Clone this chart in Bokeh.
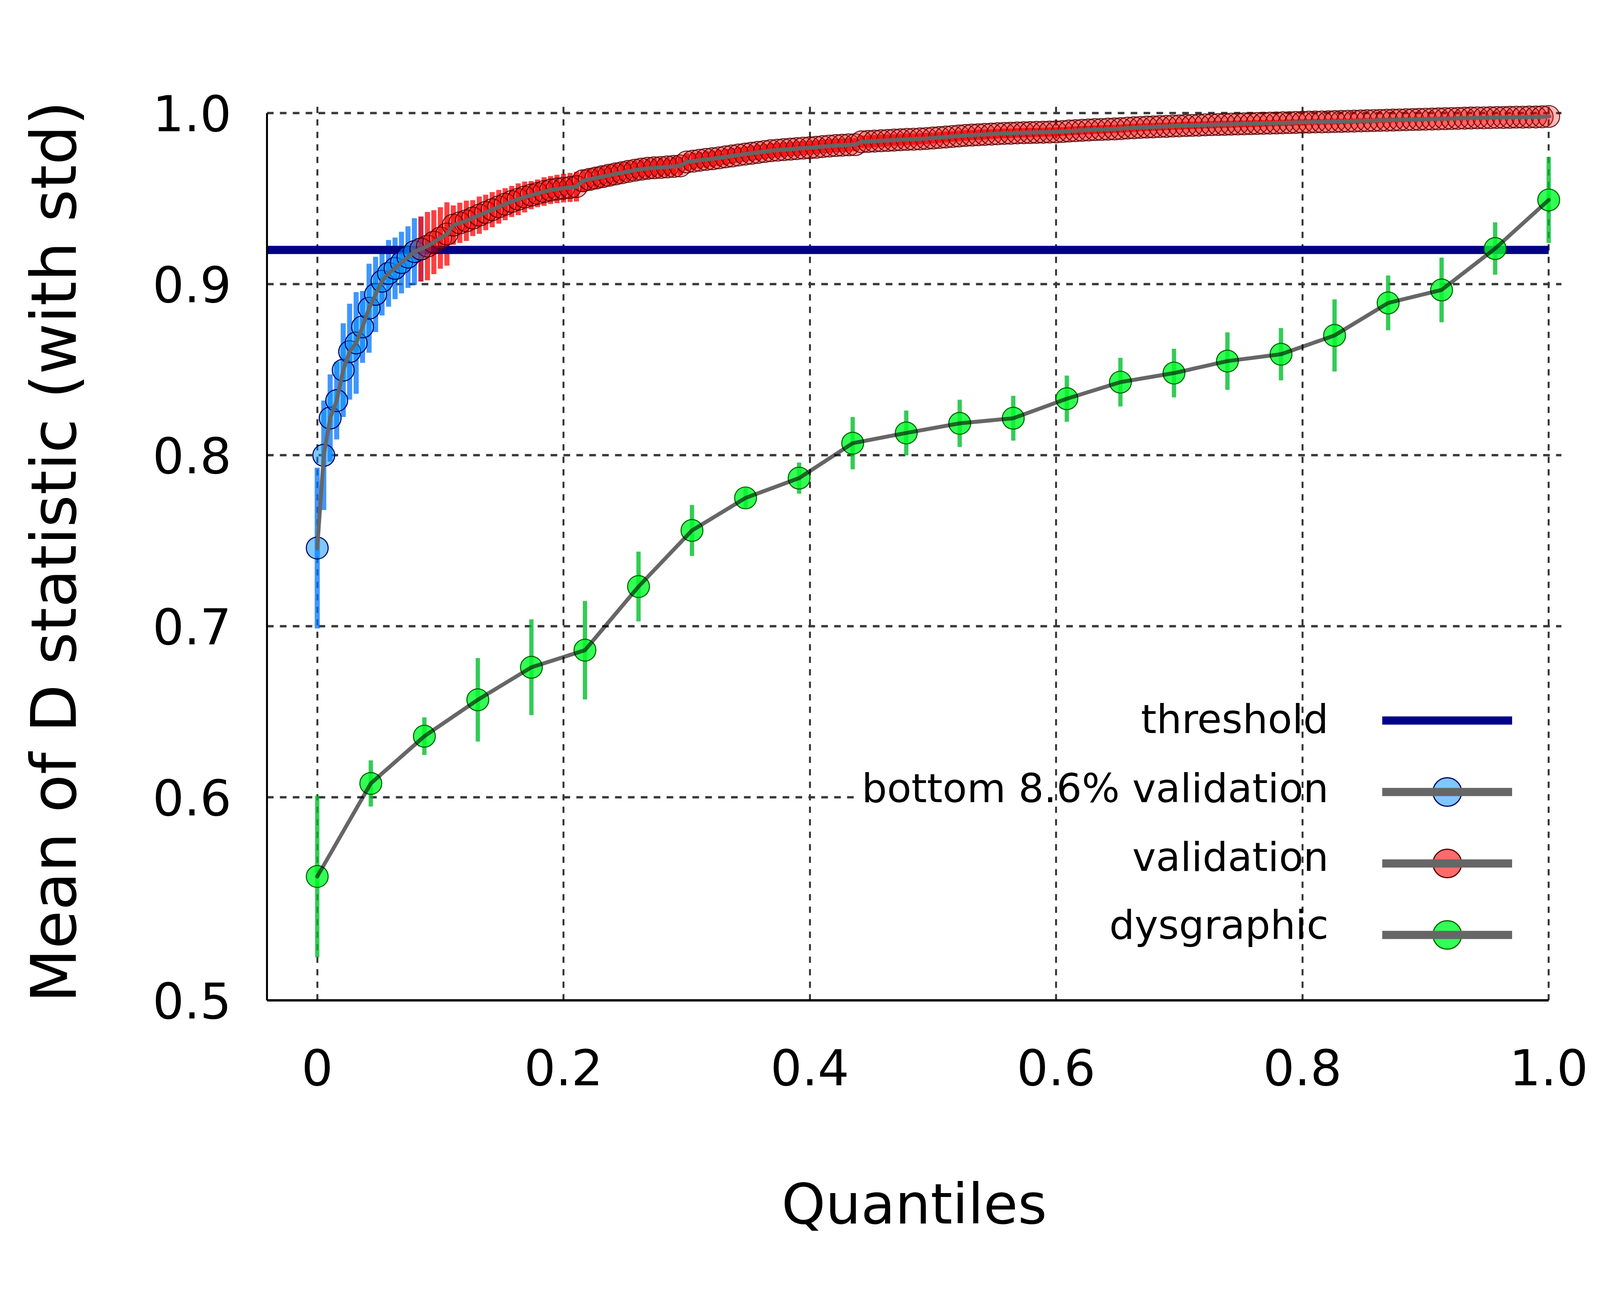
from bokeh.plotting import figure
from bokeh.models import ColumnDataSource, Range1d, FixedTicker, Legend, LegendItem, Label
from bokeh.embed import file_html
from bokeh.resources import INLINE
from bokeh.core.properties import value

# ---------------- data ----------------
x_ticks = [0, 0.2, 0.4, 0.6, 0.8, 1.0]
x_tick_labels = {0: "0", 0.2: "0.2", 0.4: "0.4", 0.6: "0.6", 0.8: "0.8", 1: "1.0"}
y_ticks = [0.4813, 0.6, 0.7, 0.8, 0.9, 1.0]
y_tick_labels = {0.4813: "0.5", 0.6: "0.6", 0.7: "0.7", 0.8: "0.8", 0.9: "0.9", 1: "1.0"}

threshold = 0.92

# bottom 8.6% validation (quantile position, mean, std)
bottom_x = [0.0000, 0.0053, 0.0105, 0.0158, 0.0211, 0.0263, 0.0316, 0.0368, 0.0421,
            0.0474, 0.0526, 0.0579, 0.0632, 0.0684, 0.0737, 0.0789, 0.0842]
bottom_mean = [0.7457, 0.7999, 0.8217, 0.8319, 0.8497, 0.8605, 0.8656, 0.8750, 0.8859,
               0.8940, 0.9017, 0.9063, 0.9092, 0.9126, 0.9158, 0.9190, 0.9205]
bottom_std = [0.047, 0.032, 0.0255, 0.0227, 0.0274, 0.028, 0.0297, 0.021, 0.026,
              0.022, 0.020, 0.0195, 0.018, 0.018, 0.018, 0.0195, 0.019]

# validation
validation_x = [
    0.0842, 0.0895, 0.0947, 0.1000, 0.1053, 0.1105, 0.1158, 0.1211, 0.1263, 0.1316,
    0.1368, 0.1421, 0.1474, 0.1526, 0.1579, 0.1632, 0.1684, 0.1737, 0.1789, 0.1842,
    0.1895, 0.1947, 0.2000, 0.2053, 0.2105, 0.2158, 0.2211, 0.2263, 0.2316, 0.2368,
    0.2421, 0.2474, 0.2526, 0.2579, 0.2632, 0.2684, 0.2737, 0.2789, 0.2842, 0.2895,
    0.2947, 0.3000, 0.3053, 0.3105, 0.3158, 0.3211, 0.3263, 0.3316, 0.3368, 0.3421,
    0.3474, 0.3526, 0.3579, 0.3632, 0.3684, 0.3737, 0.3789, 0.3842, 0.3895, 0.3947,
    0.4000, 0.4053, 0.4105, 0.4158, 0.4211, 0.4263, 0.4316, 0.4368, 0.4421, 0.4474,
    0.4526, 0.4579, 0.4632, 0.4684, 0.4737, 0.4789, 0.4842, 0.4895, 0.4947, 0.5000,
    0.5053, 0.5105, 0.5158, 0.5211, 0.5263, 0.5316, 0.5368, 0.5421, 0.5474, 0.5526,
    0.5579, 0.5632, 0.5684, 0.5737, 0.5789, 0.5842, 0.5895, 0.5947, 0.6000, 0.6053,
    0.6105, 0.6158, 0.6211, 0.6263, 0.6316, 0.6368, 0.6421, 0.6474, 0.6526, 0.6579,
    0.6632, 0.6684, 0.6737, 0.6789, 0.6842, 0.6895, 0.6947, 0.7000, 0.7053, 0.7105,
    0.7158, 0.7211, 0.7263, 0.7316, 0.7368, 0.7421, 0.7474, 0.7526, 0.7579, 0.7632,
    0.7684, 0.7737, 0.7789, 0.7842, 0.7895, 0.7947, 0.8000, 0.8053, 0.8105, 0.8158,
    0.8211, 0.8263, 0.8316, 0.8368, 0.8421, 0.8474, 0.8526, 0.8579, 0.8632, 0.8684,
    0.8737, 0.8789, 0.8842, 0.8895, 0.8947, 0.9000, 0.9053, 0.9105, 0.9158, 0.9211,
    0.9263, 0.9316, 0.9368, 0.9421, 0.9474, 0.9526, 0.9579, 0.9632, 0.9684, 0.9737,
    0.9789, 0.9842, 0.9895, 0.9947, 1.0000]
validation_mean = [
    0.9205, 0.9222, 0.9245, 0.9270, 0.9293,
    0.9345, 0.9358, 0.9370, 0.9386, 0.9403, 0.9419, 0.9435, 0.9452, 0.9467, 0.9483,
    0.9496, 0.9509, 0.9520, 0.9530, 0.9541, 0.9550, 0.9556, 0.9561, 0.9565, 0.9570,
    0.9604, 0.9612, 0.9620, 0.9628, 0.9636, 0.9644, 0.9651, 0.9659, 0.9666, 0.9672,
    0.9677, 0.9680, 0.9682, 0.9685, 0.9688, 0.9691, 0.9714, 0.9719, 0.9724, 0.9729,
    0.9733, 0.9738, 0.9744, 0.9749, 0.9755, 0.9760, 0.9765, 0.9770, 0.9775, 0.9780,
    0.9783, 0.9786, 0.9789, 0.9792, 0.9795, 0.9797, 0.9800, 0.9804, 0.9807, 0.9810,
    0.9812, 0.9814, 0.9815, 0.9832, 0.9834, 0.9836, 0.9838, 0.9840, 0.9842, 0.9844,
    0.9846, 0.9847, 0.9849, 0.9851, 0.9854, 0.9857, 0.9860, 0.9863, 0.9866, 0.9869,
    0.9871, 0.9873, 0.9875, 0.9877, 0.9879, 0.9881, 0.9882, 0.9884, 0.9885, 0.9886,
    0.9887, 0.9888, 0.9889, 0.9890, 0.9892, 0.9895, 0.9897, 0.9899, 0.9901, 0.9903,
    0.9904, 0.9906, 0.9907, 0.9909, 0.9912, 0.9914, 0.9916, 0.9918, 0.9919, 0.9921,
    0.9922, 0.9924, 0.9925, 0.9927, 0.9928, 0.9929, 0.9931, 0.9932, 0.9933, 0.9934,
    0.9935, 0.9936, 0.9937, 0.9938, 0.9939, 0.9940, 0.9941, 0.9942, 0.9943, 0.9944,
    0.9945, 0.9946, 0.9947, 0.9948, 0.9948, 0.9949, 0.9950, 0.9951, 0.9952, 0.9953,
    0.9954, 0.9955, 0.9956, 0.9957, 0.9958, 0.9959, 0.9960, 0.9961, 0.9962, 0.9963,
    0.9964, 0.9965, 0.9966, 0.9967, 0.9968, 0.9969, 0.9970, 0.9971, 0.9972, 0.9972,
    0.9973, 0.9974, 0.9974, 0.9975, 0.9976, 0.9976, 0.9977, 0.9977, 0.9978, 0.9980]
validation_std = [
    0.0190, 0.0200, 0.0187, 0.0180, 0.0185,
    0.0115, 0.0118, 0.0118, 0.0105, 0.0109, 0.0104, 0.0103, 0.0099, 0.0094, 0.0091,
    0.0093, 0.0090, 0.0082, 0.0081, 0.0084, 0.0082, 0.0083, 0.0084, 0.0085, 0.0087,
    0.0062, 0.0061, 0.0060, 0.0060, 0.0059, 0.0058, 0.0058, 0.0057, 0.0057, 0.0056,
    0.0056, 0.0055, 0.0055, 0.0054, 0.0054, 0.0053, 0.0050, 0.0050, 0.0049, 0.0049,
    0.0048, 0.0048, 0.0047, 0.0047, 0.0046, 0.0046, 0.0045, 0.0045, 0.0044, 0.0044,
    0.0043, 0.0043, 0.0042, 0.0042, 0.0041, 0.0041, 0.0040, 0.0040, 0.0040, 0.0039,
    0.0039, 0.0039, 0.0038, 0.0036, 0.0036, 0.0035, 0.0035, 0.0035, 0.0034, 0.0034,
    0.0034, 0.0033, 0.0033, 0.0033, 0.0032, 0.0032, 0.0032, 0.0031, 0.0031, 0.0031,
    0.0030, 0.0030, 0.0030, 0.0029, 0.0029, 0.0029, 0.0028, 0.0028, 0.0028, 0.0028,
    0.0027, 0.0027, 0.0027, 0.0027, 0.0026, 0.0026, 0.0026, 0.0026, 0.0025, 0.0025,
    0.0025, 0.0025, 0.0024, 0.0024, 0.0024, 0.0024, 0.0023, 0.0023, 0.0023, 0.0023,
    0.0022, 0.0022, 0.0022, 0.0022, 0.0021, 0.0021, 0.0021, 0.0021, 0.0020, 0.0020,
    0.0020, 0.0020, 0.0019, 0.0019, 0.0019, 0.0019, 0.0018, 0.0018, 0.0018, 0.0018,
    0.0017, 0.0017, 0.0017, 0.0017, 0.0016, 0.0016, 0.0016, 0.0016, 0.0015, 0.0015,
    0.0015, 0.0015, 0.0014, 0.0014, 0.0014, 0.0014, 0.0013, 0.0013, 0.0013, 0.0013,
    0.0012, 0.0012, 0.0012, 0.0012, 0.0011, 0.0011, 0.0011, 0.0011, 0.0010, 0.0010,
    0.0010, 0.0010, 0.0009, 0.0009, 0.0009, 0.0009, 0.0008, 0.0008, 0.0008, 0.0007]

# dysgraphic
dys_x = [0.0, 0.0435, 0.0870, 0.1304, 0.1739, 0.2174, 0.2609, 0.3043, 0.3478, 0.3913,
         0.4348, 0.4783, 0.5217, 0.5652, 0.6087, 0.6522, 0.6957, 0.7391, 0.7826, 0.8261,
         0.8696, 0.9130, 0.9565, 1.0]
dys_mean = [0.5537, 0.6081, 0.6357, 0.6570, 0.6760, 0.6860, 0.7232, 0.7560, 0.7750, 0.7866,
            0.8070, 0.8130, 0.8186, 0.8216, 0.8330, 0.8427, 0.8480, 0.8550, 0.8590, 0.8700,
            0.8890, 0.8966, 0.9208, 0.9492]
dys_std = [0.0472, 0.0135, 0.0110, 0.0244, 0.0280, 0.0288, 0.0204, 0.0149, 0.0060, 0.0091,
           0.0153, 0.0131, 0.0138, 0.0131, 0.0135, 0.0142, 0.0142, 0.0168, 0.0153, 0.0211,
           0.0160, 0.0189, 0.0153, 0.0251]

legend_labels = ["threshold", "bottom 8.6% validation", "validation", "dysgraphic"]

# ---------------- figure ----------------
FONT = "DejaVu Sans"
X_LO, X_HI = -0.0408, 1.0104
Y_LO, Y_HI = 0.4813, 1.0057
GRID_CUT = 0.44


def make_source(xs, means, stds):
    return ColumnDataSource(dict(
        x=xs, y=means,
        lo=[m - s for m, s in zip(means, stds)],
        hi=[m + s for m, s in zip(means, stds)],
    ))


bottom_src = make_source(bottom_x, bottom_mean, bottom_std)
valid_src = make_source(validation_x, validation_mean, validation_std)
dys_src = make_source(dys_x, dys_mean, dys_std)

p = figure(frame_width=3314, frame_height=2297,
           x_range=Range1d(X_LO, X_HI), y_range=Range1d(Y_LO, Y_HI),
           output_backend="svg", toolbar_location=None,
           min_border_left=683, min_border_right=83,
           min_border_top=264, min_border_bottom=739)
p.outline_line_color = None
p.background_fill_color = "white"
p.border_fill_color = "white"

# grid
GRID_COLOR = "#383838"
p.xgrid.ticker = FixedTicker(ticks=x_ticks)
p.xgrid.grid_line_color = GRID_COLOR
p.xgrid.grid_line_width = 5
p.xgrid.grid_line_dash = "16 16"
p.ygrid.ticker = FixedTicker(ticks=[t for t in y_ticks if t >= 0.7])
p.ygrid.grid_line_color = GRID_COLOR
p.ygrid.grid_line_width = 6
p.ygrid.grid_line_dash = "17 16"
p.segment(x0=[X_LO], y0=[0.6], x1=[GRID_CUT], y1=[0.6], line_color=GRID_COLOR,
          line_width=6, line_dash="17 16", level="underlay")

# axes
for ax in (p.xaxis, p.yaxis):
    ax.axis_line_color = "black"
    ax.major_tick_line_color = None
    ax.minor_tick_line_color = None
    ax.major_label_text_font = FONT
    ax.major_label_text_font_size = "127px"
    ax.major_label_text_color = "black"
    ax.axis_label_text_font = FONT
    ax.axis_label_text_font_style = "normal"
    ax.axis_label_text_color = "black"

p.xaxis.axis_line_width = 6
p.xaxis.ticker = FixedTicker(ticks=x_ticks)
p.xaxis.major_label_overrides = x_tick_labels
p.xaxis.bounds = (X_LO, 1.0)
p.xaxis.major_label_standoff = 118
p.xaxis.axis_label = "Quantiles"
p.xaxis.axis_label_text_font_size = "143px"
p.xaxis.axis_label_standoff = 218

p.yaxis.axis_line_width = 5
p.yaxis.ticker = FixedTicker(ticks=y_ticks)
p.yaxis.major_label_overrides = y_tick_labels
p.yaxis.bounds = (Y_LO, 1.0)
p.yaxis.major_label_standoff = 85
p.yaxis.axis_label = "Mean of D statistic (with std)"
p.yaxis.axis_label_text_font_size = "160px"
p.yaxis.axis_label_standoff = 156

# error bars
p.segment(x0="x", y0="lo", x1="x", y1="hi", source=bottom_src,
          line_color="#0073ff", line_alpha=0.75, line_width=13)
p.segment(x0="x", y0="lo", x1="x", y1="hi", source=valid_src,
          line_color="#ff0000", line_alpha=0.75, line_width=13)
p.segment(x0="x", y0="lo", x1="x", y1="hi", source=dys_src,
          line_color="#00bf2a", line_alpha=0.8, line_width=11)

# threshold
thr_r = p.line(x=[X_LO, 1.0], y=[threshold, threshold], line_color="#000088", line_width=21)

# markers
MW, MH = 56, 56
p.ellipse(x="x", y="y", width=MW, height=MH, width_units="screen", height_units="screen",
          source=bottom_src, fill_color="#0090ff", fill_alpha=0.5,
          line_color="#000066", line_width=2.7)
p.ellipse(x="x", y="y", width=MW, height=MH, width_units="screen", height_units="screen",
          source=valid_src, fill_color="#ff0000", fill_alpha=0.27,
          line_color="#550000", line_width=2.7, line_alpha=0.85)
p.ellipse(x="x", y="y", width=MW, height=MH, width_units="screen", height_units="screen",
          source=dys_src, fill_color="#00ff2b", fill_alpha=0.8,
          line_color="#006600", line_width=2.7)

# connecting lines
p.line(x="x", y="y", source=bottom_src, line_color="#666666", line_width=10,
       line_join="round", line_cap="round")
p.line(x="x", y="y", source=valid_src, line_color="#666666", line_width=10,
       line_join="round", line_cap="round")
p.line(x="x", y="y", source=dys_src, line_color="black", line_alpha=0.6, line_width=10,
       line_join="round", line_cap="round")


# legend handles (hidden renderers used only to draw the legend glyphs)
def legend_handles(src, fill, alpha, edge):
    m = p.scatter(x="x", y="y", source=src, marker="circle", size=73,
                  fill_color=fill, fill_alpha=alpha, line_color=edge, line_width=3,
                  visible=False)
    l = p.line(x="x", y="y", source=src, line_color="#666666", line_width=21, visible=False)
    return [m, l]


items = [
    LegendItem(label=value(" "), renderers=[thr_r]),
    LegendItem(label=value(" "), renderers=legend_handles(bottom_src, "#0090ff", 0.5, "#000066")),
    LegendItem(label=value(" "), renderers=legend_handles(valid_src, "#ff0000", 0.58, "#550000")),
    LegendItem(label=value(" "), renderers=legend_handles(dys_src, "#00ff2b", 0.8, "#006600")),
]
legend = Legend(items=items, location=(2855, 76), glyph_width=333, glyph_height=183,
                spacing=0, padding=0, margin=0, label_standoff=0, label_width=0,
                label_height=0, label_text_font_size="1px",
                border_line_color=None, background_fill_alpha=0)
p.add_layout(legend)

legend_text_x = 0.8212
legend_text_y = [0.6456, 0.6052, 0.5650, 0.5253]
for txt, yy in zip(legend_labels, legend_text_y):
    p.add_layout(Label(x=legend_text_x, y=yy, text=txt, text_align="right",
                       text_baseline="alphabetic", text_font=FONT, text_font_size="102px",
                       text_color="black"))

open("out.html", "w").write(file_html(p, INLINE))
